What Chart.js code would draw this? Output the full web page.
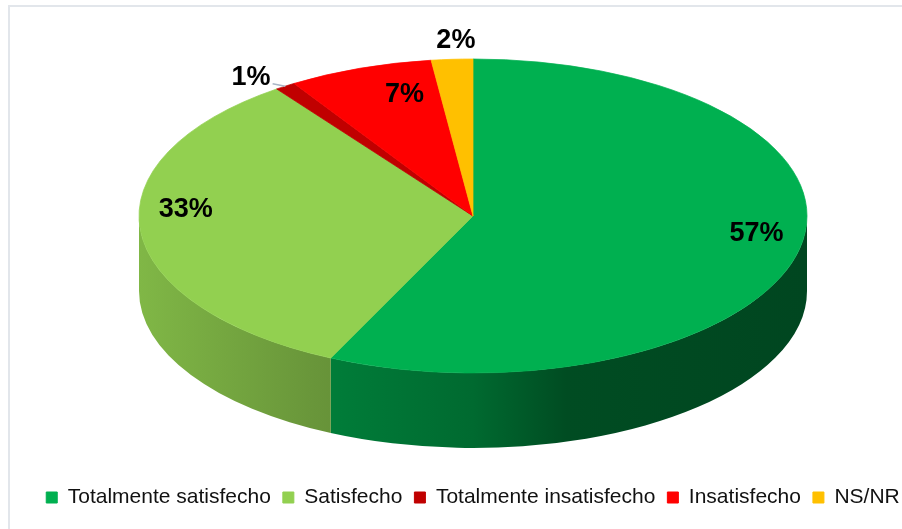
<!DOCTYPE html>
<html>
<head>
<meta charset="utf-8">
<script src="https://cdn.jsdelivr.net/npm/chart.js@4.4.1/dist/chart.umd.min.js"></script>
<style>
  html, body { margin: 0; padding: 0; background: #fff; overflow: hidden; }
  #frame { position: absolute; left: 8px; top: 5px; width: 930px; height: 560px; border: 2px solid #e2e6eb; box-sizing: border-box; }
  #wrap { position: absolute; left: 0; top: -50px; width: 926px; height: 606px; }
</style>
</head>
<body>
<div id="frame"><div id="wrap"><canvas id="pieChart"></canvas></div></div>
<script>
// datos
const categories = ['Totalmente satisfecho', 'Satisfecho', 'Totalmente insatisfecho', 'Insatisfecho', 'NS/NR'];
const percentages = [57, 33, 1, 7, 2];
const sliceColors = ['#00B050', '#92D050', '#C00000', '#FF0000', '#FFC000'];

// oscurecer un color hex
function shade(hex, f) {
    const n = parseInt(hex.slice(1), 16);
    const r = Math.round(((n >> 16) & 255) * f);
    const g = Math.round(((n >> 8) & 255) * f);
    const b = Math.round((n & 255) * f);
    return 'rgb(' + r + ',' + g + ',' + b + ')';
}

// efecto 3D: lados + aplastar el círculo en elipse
const pie3d = {
    id: 'pie3d',
    beforeDatasetsDraw(chart, args, opts) {
        const ctx = chart.ctx;
        const arcs = chart.getDatasetMeta(0).data;
        const cx = arcs[0].x, cy = arcs[0].y, r = arcs[0].outerRadius;
        const k = opts.ratio, depth = opts.depth;
        arcs.forEach((arc, i) => {
            const a0 = Math.max(arc.startAngle, 0);
            const a1 = Math.min(arc.endAngle, Math.PI);
            if (a1 <= a0) return;
            const grad = ctx.createLinearGradient(cx - r, 0, cx + r, 0);
            opts.sideShades.forEach(s => grad.addColorStop(s[0], shade(sliceColors[i], s[1])));
            ctx.beginPath();
            ctx.ellipse(cx, cy, r, r * k, 0, a0, a1);
            ctx.ellipse(cx, cy + depth, r, r * k, 0, a1, a0, true);
            ctx.closePath();
            ctx.fillStyle = grad;
            ctx.fill();
        });
        ctx.save();
        ctx.translate(cx, cy);
        ctx.scale(1, k);
        ctx.translate(-cx, -cy);
    },
    afterDatasetsDraw(chart) {
        chart.ctx.restore();
    }
};

// etiquetas de porcentaje
const pieLabels = {
    id: 'pieLabels',
    afterDraw(chart, args, opts) {
        const ctx = chart.ctx;
        const k = chart.options.plugins.pie3d.ratio;
        const arcs = chart.getDatasetMeta(0).data;
        ctx.save();
        ctx.font = 'bold 27px "Liberation Sans", Arial, sans-serif';
        ctx.fillStyle = '#000';
        ctx.textAlign = 'center';
        ctx.textBaseline = 'middle';
        arcs.forEach((arc, i) => {
            const v = percentages[i];
            const mid = (arc.startAngle + arc.endAngle) / 2;
            const f = v >= 5 ? 0.87 : 1.15;
            const nudge = opts.nudge[i];
            const x = arc.x + Math.cos(mid) * arc.outerRadius * f + nudge[0];
            const y = arc.y + Math.sin(mid) * arc.outerRadius * k * f + nudge[1];
            const txt = v + '%';
            if (v < 5 && Math.abs(Math.cos(mid)) > 0.3) {
                const w = ctx.measureText(txt).width;
                ctx.beginPath();
                ctx.moveTo(x + w / 2 + 2, y + 6);
                ctx.lineTo(arc.x + Math.cos(mid) * arc.outerRadius, arc.y + Math.sin(mid) * arc.outerRadius * k);
                ctx.strokeStyle = '#a9b6c6';
                ctx.lineWidth = 1.5;
                ctx.stroke();
            }
            ctx.fillText(txt, x, y);
        });
        ctx.restore();
    }
};

const ctx = document.getElementById('pieChart').getContext('2d');
const pieChart = new Chart(ctx, {
    type: 'pie',
    data: {
        labels: categories,
        datasets: [{
            data: percentages,
            backgroundColor: sliceColors,
            borderColor: sliceColors,
            borderWidth: 1,
            clip: false
        }]
    },
    options: {
        responsive: true,
        maintainAspectRatio: false,
        animation: false,
        events: [],
        radius: 334,
        layout: { padding: { top: 0, bottom: 45, left: 0, right: 0 } },
        plugins: {
            tooltip: { enabled: false },
            legend: {
                position: 'bottom',
                labels: {
                    boxWidth: 11,
                    boxHeight: 11,
                    padding: 12,
                    color: '#111',
                    font: { family: '"Liberation Sans", Arial, sans-serif', size: 21 }
                }
            },
            pie3d: {
                ratio: 157 / 334,
                depth: 75,
                sideShades: [[0, 0.88], [0.26, 0.72], [0.5, 0.6], [0.64, 0.43], [1, 0.4]]
            },
            pieLabels: {
                nudge: [[0, -12], [2, -19], [-6, 11], [30, 7], [7, 5]]
            }
        }
    },
    plugins: [pie3d, pieLabels]
});
</script>
</body>
</html>
